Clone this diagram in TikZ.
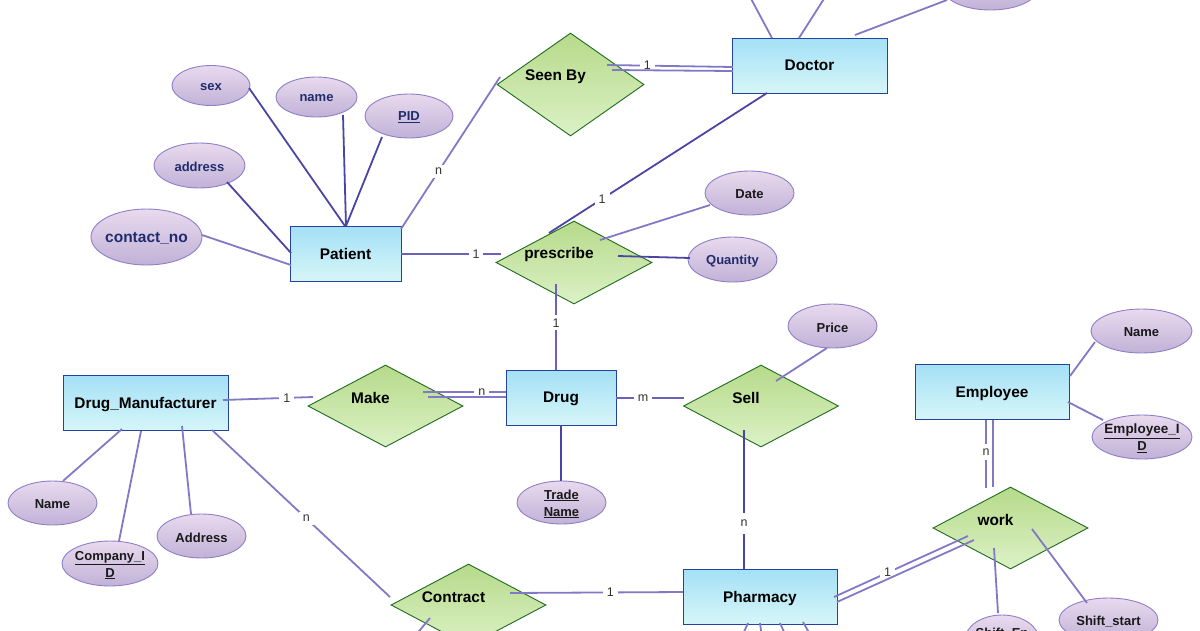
\documentclass[tikz,border=0pt]{standalone}
\usepackage{fontspec}
\setmainfont{Liberation Sans}
\usetikzlibrary{shapes.geometric,calc}
\definecolor{entT}{HTML}{A4E0F6}
\definecolor{entBo}{HTML}{D6F6F8}
\definecolor{entB}{HTML}{2442A2}
\definecolor{relT}{HTML}{B6DA8A}
\definecolor{relBo}{HTML}{DCF1C6}
\definecolor{relB}{HTML}{1E6B1E}
\definecolor{attT}{HTML}{E9DAEE}
\definecolor{attBo}{HTML}{C1B1D7}
\definecolor{attB}{HTML}{8E80C8}
\definecolor{navy}{HTML}{1F2D6E}
\definecolor{lnD}{HTML}{4B44A3}
\definecolor{lnM}{HTML}{6A62B8}
\definecolor{lnL}{HTML}{8279C6}
\begin{document}
\begin{tikzpicture}[x=1pt,y=-1pt,
  ent/.style={rectangle, draw=entB, line width=1pt, top color=entT, bottom color=entBo,
    minimum width=#1, minimum height=55pt, inner sep=0pt,
    font=\bfseries\fontsize{15.4}{18}\selectfont, text depth=0pt},
  rel/.style n args={3}{diamond, draw=relB, line width=0.9pt, top color=relT, bottom color=relBo,
    minimum width=#1, minimum height=#2, inner sep=0pt,
    label={[font=\bfseries\fontsize{15.4}{18}\selectfont, xshift=-15pt, yshift=8pt]center:{#3}}},
  attr/.style n args={3}{ellipse, draw=attB, line width=0.9pt, top color=attT, bottom color=attBo,
    minimum width=#1, minimum height=#2, inner sep=0pt,
    label={[atext]center:{#3}}},
  atext/.style={font=\bfseries\fontsize{13}{17}\selectfont, align=center, text=black!90, yshift=-1.5pt},
  lD/.style={draw=lnD, line width=1.8pt},
  lM/.style={draw=lnM, line width=1.8pt},
  lL/.style={draw=lnL, line width=1.8pt},
  card/.style={fill=white, inner xsep=4pt, inner ysep=3pt, text=black!80,
    font=\fontsize{12.5}{14}\selectfont}
]
\useasboundingbox (0,0) rectangle (1200,630);
\clip (0,0) rectangle (1200,630);

% entities
\node[ent=111] (pa) at (345.5,253.5) {Patient};
\node[ent=155] (dr) at (809.5,65.5) {Doctor};
\node[ent=165] (dm) at (145.5,403) {Drug\_Manufacturer};
\node[ent=110] (dg) at (561,397.5) {Drug};
\node[ent=154] (em) at (992,391.5) {Employee};
\node[ent=154] (ph) at (760,596.5) {Pharmacy};

% relationships
\node[rel={147pt}{103pt}{Seen By}] (sb) at (570.5,84.5) {};
\node[rel={156pt}{83pt}{prescribe}] (pr) at (574,262.5) {};
\node[rel={155pt}{82pt}{Make}] (mk) at (385.5,406) {};
\node[rel={155pt}{82pt}{Sell}] (se) at (761,406) {};
\node[rel={155pt}{82pt}{work}] (wk) at (1010.5,528) {};
\node[rel={155pt}{82pt}{Contract}] (ct) at (468.5,605) {};

% attributes
\node[attr={78pt}{40pt}{\textcolor{navy}{sex}}] (sx) at (211,85.5) {};
\node[attr={81pt}{40pt}{\textcolor{navy}{name}}] (nm) at (316.5,97) {};
\node[attr={88pt}{44pt}{\textcolor{navy}{\underline{PID}}}] (pid) at (409,116) {};
\node[attr={91pt}{45pt}{\textcolor{navy}{address}}] (ad) at (199.5,165.5) {};
\node[attr={111pt}{56pt}{\textcolor{navy}{\fontsize{15.5}{18}\selectfont contact\_no}}] (cn) at (146.5,237) {};
\node[attr={89pt}{44pt}{Date}] (da) at (749.5,193) {};
\node[attr={89pt}{45pt}{\textcolor{navy}{Quantity}}] (qt) at (732.5,259.5) {};
\node[attr={89pt}{44pt}{Price}] (prc) at (832.5,326) {};
\node[attr={101pt}{44pt}{Name}] (en) at (1141.5,331) {};
\node[attr={100pt}{44pt}{\fontsize{13.5}{17.5}\selectfont\underline{Employee\_I}\\\underline{D}}] (eid) at (1142,437) {};
\node[attr={89pt}{44pt}{Name}] (mn) at (52.5,503) {};
\node[attr={96pt}{45pt}{\underline{Company\_I}\\\underline{D}}] (cid) at (110,563.5) {};
\node[attr={89pt}{44pt}{Address}] (mad) at (201.5,536) {};
\node[attr={89pt}{43pt}{\underline{Trade}\\\underline{Name}}] (tn) at (561.5,502.5) {};
\node[attr={99pt}{44pt}{Shift\_start}] (ss) at (1108.5,620) {};
\node[attr={74pt}{50pt}{Shift\_En\\d}] (sh) at (1002,640) {};
\node[attr={95pt}{44pt}{}] (tp) at (990.5,-12) {};

\coordinate (dt1) at (741,-20);
\coordinate (dt2) at (836,-20);
\coordinate (cb1) at (410,642);
\coordinate (pb1) at (738,645);
\coordinate (pb2) at (763,645);
\coordinate (pb3) at (790,645);
\coordinate (pb4) at (816,645);

% patient attributes
\draw[lD] ($(sx)+(38,2.5)$) -- ($(pa)+(-0.5,-27.5)$);
\draw[lD] ($(nm)+(26.5,18)$) -- ($(pa)+(0.5,-27.5)$);
\draw[lD] ($(pid)+(-27,21)$) -- ($(pa)+(0.5,-27.5)$);
\draw[lD] ($(ad)+(27.5,16.5)$) -- ($(pa)+(-54.5,-0.5)$);
\draw[lL] ($(cn)+(55.5,-2)$) -- ($(pa)+(-54.5,11.5)$);

% patient - seen by - doctor
\draw[lL] ($(pa)+(55.5,-24.5)$) -- node[card,pos=0.38]{n} ($(sb)+(-70.5,-7.5)$);
\draw[lL] ($(sb)+(36.5,-19.5)$) -- node[card,pos=0.32]{1} ($(dr)+(-76.5,1.5)$);
\draw[lL] ($(sb)+(41.5,-14.5)$) -- ($(dr)+(-76.5,5.5)$);

% doctor attributes (off picture)
\draw[lL] ($(dr)+(-37.5,-27.5)$) -- (dt1);
\draw[lL] ($(dr)+(-10.5,-27.5)$) -- (dt2);
\draw[lL] ($(dr)+(45.5,-30.5)$) -- ($(tp)+(-43.5,12)$);

% prescribe
\draw[lD] ($(dr)+(-42.5,27.5)$) -- node[card,pos=0.756]{1} ($(pr)+(-25,-29.5)$);
\draw[lM] ($(pa)+(55.5,0.5)$) -- node[card,pos=0.75]{1} ($(pr)+(-73,-8.5)$);
\draw[lL] ($(pr)+(26,-22.5)$) -- ($(da)+(-39.5,12)$);
\draw[lD] ($(pr)+(44,-6.5)$) -- ($(qt)+(-42.5,-1.5)$);
\draw[lM] ($(pr)+(-18,21.5)$) -- node[card,pos=0.45]{1} ($(dg)+(-5,-27.5)$);

% make
\draw[lL] ($(dm)+(77.5,-3)$) -- node[card,pos=0.71]{1} ($(mk)+(-72.5,-9)$);
\draw[lL] ($(mk)+(37.5,-14)$) -- node[card,pos=0.71,inner ysep=1pt]{n} ($(dg)+(-55,-5.5)$);
\draw[lL] ($(mk)+(42.5,-9)$) -- ($(dg)+(-55,-0.5)$);

% sell
\draw[lM] ($(dg)+(55,0.5)$) -- node[card,pos=0.4]{m} ($(se)+(-77,-8)$);
\draw[lL] ($(se)+(15,-25)$) -- ($(prc)+(-5.5,22)$);
\draw[lD] ($(se)+(-17,24)$) -- node[card,pos=0.67,inner ysep=7pt]{n} ($(ph)+(-16,-27.5)$);
\draw[lD] ($(dg)+(0,27.5)$) -- ($(tn)+(-0.5,-21.5)$);

% drug manufacturer attributes
\draw[lL] ($(dm)+(-23.5,26)$) -- ($(mn)+(10.5,-22)$);
\draw[lL] ($(dm)+(-4.5,28)$) -- ($(cid)+(9,-22.5)$);
\draw[lL] ($(dm)+(36.5,23)$) -- ($(mad)+(-10.5,-22)$);

% contract
\draw[lL] ($(dm)+(66.5,27)$) -- node[card,pos=0.53]{n} ($(ct)+(-78.5,-8)$);
\draw[lL] ($(ct)+(41.5,-12)$) -- node[card,pos=0.58]{1} ($(ph)+(-77,-4.5)$);
\draw[lL] ($(ct)+(-38.5,13)$) -- (cb1);

% pharmacy attributes (off picture)
\draw[lL] ($(ph)+(-12,26.5)$) -- (pb1);
\draw[lL] ($(ph)+(0,26.5)$) -- (pb2);
\draw[lL] ($(ph)+(20,26.5)$) -- (pb3);
\draw[lL] ($(ph)+(43,25.5)$) -- (pb4);

% work
\draw[lL] ($(ph)+(74,0.5)$) -- node[card,pos=0.40,inner ysep=1pt]{1} ($(wk)+(-42.5,8)$);
\draw[lL] ($(ph)+(77,5.5)$) -- ($(wk)+(-36.5,12)$);
\draw[lL] ($(em)+(-6,28.5)$) -- node[card,pos=0.47,inner xsep=1pt,inner ysep=5pt]{n} ($(wk)+(-24.5,-40)$);
\draw[lL] ($(em)+(1,28.5)$) -- ($(wk)+(-17.5,-41)$);
\draw[lL] ($(wk)+(-16.5,20)$) -- ($(sh)+(-4,-27)$);
\draw[lL] ($(wk)+(21.5,1)$) -- ($(ss)+(-21.5,-17)$);

% employee attributes
\draw[lL] ($(em)+(78,-15.5)$) -- ($(en)+(-46.5,11)$);
\draw[lL] ($(em)+(76,10.5)$) -- ($(eid)+(-39,-17)$);
\end{tikzpicture}
\end{document}
